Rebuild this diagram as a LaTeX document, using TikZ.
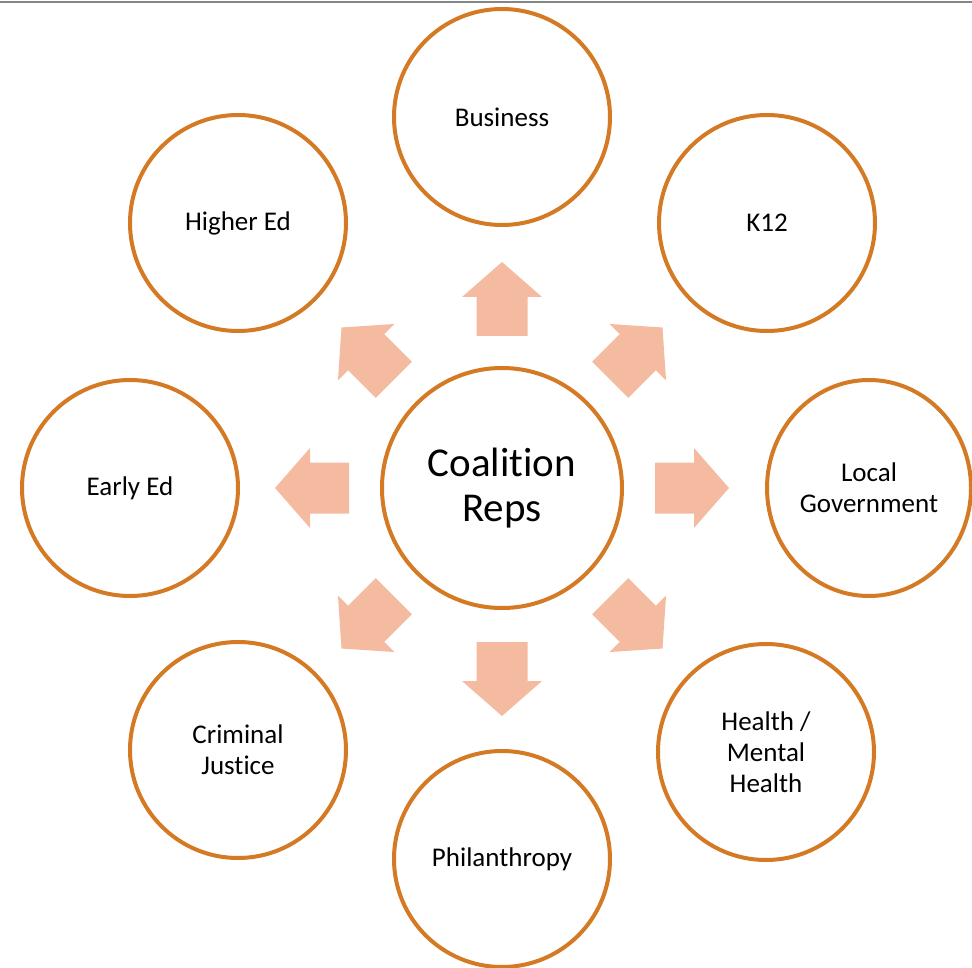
\documentclass[tikz,border=0pt]{standalone}
\usepackage{fontspec}
\setmainfont[Ligatures=NoCommon]{Carlito}
\usetikzlibrary{shapes.geometric}
\definecolor{ring}{HTML}{D57A24}
\definecolor{arr}{HTML}{F5BBA1}
\definecolor{topline}{HTML}{858585}
\begin{document}
\begin{tikzpicture}[x=1pt,y=-1pt,
  hub/.style={circle, draw=ring, line width=4pt, fill=white, minimum size=240pt, inner sep=0pt, align=center, font=\fontsize{41}{45}\selectfont},
  spoke/.style={circle, draw=ring, line width=4pt, fill=white, minimum size=216pt, inner sep=0pt, align=center, font=\fontsize{27}{31}\selectfont},
  spokeoval/.style={ellipse, draw=ring, line width=4pt, fill=white, minimum width=204pt, minimum height=216pt, inner sep=0pt, align=center, font=\fontsize{27}{31}\selectfont},
  blk/.style={fill=arr}]
\useasboundingbox (0,0) rectangle (972,968);
\draw[topline, line width=2.5pt] (0,2) -- (972,2);

\node[hub] (hub) at (502,488) {Coalition\\Reps};

\node[spoke] (business) at (502,117) {Business};
\node[spoke] (k12) at (767,223) {K12};
\node[spokeoval] (localgov) at (869,488) {Local\\Government};
\node[spoke] (health) at (766,752) {Health /\\Mental\\Health};
\node[spoke] (phil) at (502,859) {Philanthropy};
\node[spoke] (crim) at (238,750) {Criminal\\Justice};
\node[spoke] (early) at (130,488) {Early Ed};
\node[spoke] (higher) at (238,223) {Higher Ed};

\foreach \a/\d in {0/153,90/152,180/153,270/154,45/153,135/153,225/153,315/153}
  \fill[blk, shift={(hub.center)}, rotate=\a]
    (\d,-25.5) -- (\d+39,-25.5) -- (\d+39,-40) -- (\d+74,0)
    -- (\d+39,40) -- (\d+39,25.5) -- (\d,25.5) -- cycle;
\end{tikzpicture}
\end{document}
